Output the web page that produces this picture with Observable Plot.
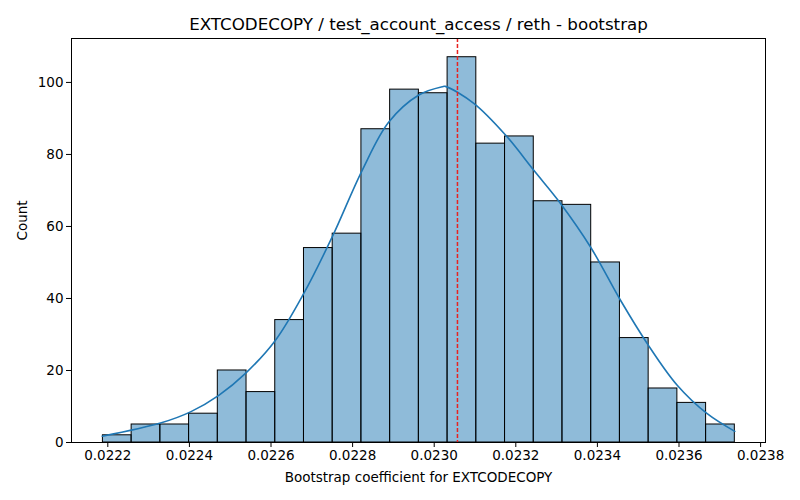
<!DOCTYPE html>
<html>
<head>
<meta charset="utf-8">
<script src="https://cdn.jsdelivr.net/npm/d3@7"></script>
<script src="https://cdn.jsdelivr.net/npm/@observablehq/plot@0.6"></script>
<style>
  html, body { margin: 0; padding: 0; background: #fff; }
  #chart { width: 800px; height: 500px; }
</style>
</head>
<body>
<div id="chart"></div>
<script>
const titleText = "EXTCODECOPY / test_account_access / reth - bootstrap";
const xLabel = "Bootstrap coefficient for EXTCODECOPY";
const yLabel = "Count";

const binEdges = [0.022188, 0.0222584, 0.0223288, 0.0223992, 0.0224696, 0.02254, 0.0226104,
  0.0226808, 0.0227512, 0.0228216, 0.022892, 0.0229624, 0.0230328, 0.0231032, 0.0231736,
  0.023244, 0.0233144, 0.0233848, 0.0234552, 0.0235256, 0.023596, 0.0236664, 0.0237368];
const counts = [2, 5, 5, 8, 20, 14, 34, 54, 58, 87, 98, 97, 107, 83, 85, 67, 66, 50, 29, 15, 11, 5];

const kdeX = [0.0221863, 0.0223292, 0.0224027, 0.022472, 0.0225375, 0.022611, 0.0226804,
  0.02275, 0.0228235, 0.0228887, 0.0229623, 0.0230196, 0.0230272, 0.023097, 0.0231748,
  0.0232441, 0.0233096, 0.0233831, 0.0234566, 0.023522, 0.0235956, 0.0236691, 0.0237368];
const kdeY = [1.75, 5.4, 8.5, 13.1, 19.2, 28.4, 41.4, 57.1, 75.6, 89.0, 96.5, 98.8, 98.9,
  94.2, 85.4, 75.6, 66.4, 54.3, 39.5, 27.5, 15.9, 8.0, 3.1];

const meanValue = 0.023057;

const xTicks = [0.0222, 0.0224, 0.0226, 0.0228, 0.0230, 0.0232, 0.0234, 0.0236, 0.0238];
const yTicks = [0, 20, 40, 60, 80, 100];

const bars = counts.map((c, i) => ({x1: binEdges[i], x2: binEdges[i + 1], y: c}));
const kde = kdeX.map((x, i) => ({x, y: kdeY[i]}));

const fontFamily = "'DejaVu Sans', sans-serif";

const plot = Plot.plot({
  width: 800,
  height: 500,
  marginTop: 38,
  marginLeft: 71,
  marginRight: 35,
  marginBottom: 58,
  style: {fontFamily, fontSize: "13.5px", background: "#fff"},
  x: {domain: [0.022111, 0.023812]},
  y: {domain: [0, 112.2]},
  marks: [
    Plot.rectY(bars, {x1: "x1", x2: "x2", y: "y", fill: "#1f77b4", fillOpacity: 0.5,
      stroke: "#000", strokeWidth: 1, inset: 0}),
    Plot.line(kde, {x: "x", y: "y", stroke: "#1f77b4", strokeWidth: 1.6, curve: "catmull-rom"}),
    Plot.ruleX([meanValue], {stroke: "#e8221f", strokeOpacity: 1, strokeWidth: 1.5, strokeDasharray: "4,2"}),
    Plot.frame({stroke: "#000", strokeWidth: 1}),
    Plot.axisX({ticks: xTicks, tickFormat: d => d.toFixed(4), tickSize: 5, tickPadding: 3,
      fontSize: 13.5, label: null}),
    Plot.axisY({ticks: yTicks, tickFormat: d => String(d), tickSize: 5, tickPadding: 3,
      fontSize: 13.5, label: null}),
    Plot.text([titleText], {frameAnchor: "top", dy: -20, fontSize: 16.7, fill: "#000"}),
    Plot.text([xLabel], {frameAnchor: "bottom", dy: 39, fontSize: 13.5, fill: "#000"}),
    Plot.text([yLabel], {frameAnchor: "left", dx: -49, rotate: -90, fontSize: 13.5, fill: "#000"})
  ]
});
document.getElementById("chart").appendChild(plot);
</script>
</body>
</html>
